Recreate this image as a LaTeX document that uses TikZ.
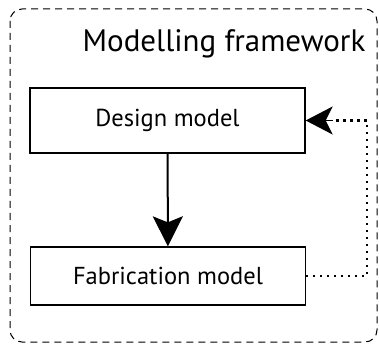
\documentclass[tikz,border=0pt]{standalone}
\usepackage{fontspec}
\setmainfont{PT Sans}
\usetikzlibrary{positioning,arrows.meta}

\tikzset{
  modelbox/.style={draw, line width=1.3pt, minimum width=275pt, inner sep=0pt,
                   font=\fontsize{24.5}{28}\selectfont},
  feedback/.style={line width=2.2pt, dash pattern=on 2.2pt off 4.8pt},
}

\begin{document}
\begin{tikzpicture}[x=1pt,y=1pt]
  \useasboundingbox (0,0) rectangle (379,-344);
  % framework border
  \draw[dash pattern=on 7pt off 5pt, rounded corners=12pt, line width=1pt]
    (10,-9) rectangle (377,-342);
  \node (title) at (224,-44) {\fontsize{31}{36}\selectfont Modelling framework};
  % the two models
  \node[modelbox, minimum height=65pt] (design) at (167.5,-120.5) {Design model};
  \node[modelbox, minimum height=58pt] (fab) at (168,-276) {Fabrication model};
  \draw[line width=2pt, -{Stealth[length=30pt, width=30pt, inset=6pt]}] (design) -- (fab);
  % feedback
  \coordinate (tip) at ([xshift=27pt]design.east);
  \draw[feedback] (fab.east) -- ++(61,0) |- (tip);
  \draw[line width=1.5pt, -{Stealth[length=27pt, width=28pt, inset=7pt]}] (tip) -- (design.east);
\end{tikzpicture}
\end{document}
